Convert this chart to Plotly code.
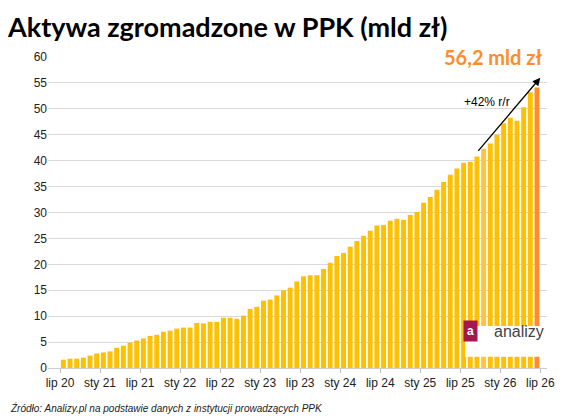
import plotly.graph_objects as go

# miesięczne aktywa PPK (mld zł), lip 2020 -> cze 2026
values = [1.6, 1.8, 1.8, 2.0, 2.4, 2.8, 3.0, 3.2, 3.9, 4.3, 4.9, 5.3,
          5.7, 6.2, 6.4, 7.0, 7.2, 7.6, 7.8, 7.8, 8.7, 8.6, 8.9, 8.9,
          9.7, 9.7, 9.5, 10.1, 11.4, 11.8, 13.0, 13.2, 14.0, 15.0, 15.5, 16.7,
          17.7, 17.9, 17.9, 19.1, 20.3, 21.6, 22.2, 23.4, 24.5, 25.5, 26.5, 27.5,
          27.6, 28.4, 28.8, 28.6, 29.5, 30.1, 31.9, 33.0, 34.4, 35.9, 37.3, 38.5,
          39.6, 39.8, 40.8, 42.3, 43.3, 45.0, 47.2, 48.3, 47.7, 50.3, 53.2, 54.1]
tick_labels = ["lip 20", "sty 21", "lip 21", "sty 22", "lip 22", "sty 23", "lip 23",
               "sty 24", "lip 24", "sty 25", "lip 25", "sty 26", "lip 26"]
last_label = "56,2 mld zł"
growth_label = "+42% r/r"

x = list(range(len(values)))
colors = ["#FFC000"] * len(values)
colors[63] = "#FDC441"
colors[-1] = "#FF8C2A"

fig = go.Figure(go.Bar(x=x, y=values, marker_color=colors, marker_line_width=0, width=0.74))

fig.add_annotation(x=71.5, y=56, ax=62, ay=41.6, xref="x", yref="y", axref="x", ayref="y",
                   showarrow=True, arrowhead=2, arrowsize=1.2, arrowwidth=1.3, arrowcolor="black", text="")
fig.add_annotation(x=63.5, y=51.3, text=growth_label, showarrow=False,
                   font=dict(size=12, color="black", family="Liberation Sans"))
fig.add_annotation(x=0.994, y=1.0, xref="paper", yref="paper", xanchor="right", yanchor="middle",
                   text="<b>" + last_label + "</b>", showarrow=False,
                   font=dict(size=20, color="#FF8C2A", family="Lato"))

# logo
fig.add_shape(type="rect", xref="paper", yref="paper", x0=0.836, x1=1.0, y0=0.036, y1=0.135,
              fillcolor="white", line_width=0, layer="above")
fig.add_annotation(x=0.862, y=0.082, xref="paper", yref="paper", text="<b>a</b>", showarrow=False,
                   bgcolor="#A5174F", font=dict(color="white", size=12, family="Liberation Sans"),
                   borderpad=3)
fig.add_annotation(x=0.89, y=0.082, xref="paper", yref="paper", xanchor="left", text="analizy",
                   showarrow=False, font=dict(color="#444", size=16, family="Liberation Sans"))

fig.update_layout(
    width=563, height=416,
    margin=dict(l=40, r=24, t=49, b=56, autoexpand=False),
    paper_bgcolor="white", plot_bgcolor="white",
    showlegend=False,
    title=dict(text="<b>Aktywa zgromadzone w PPK (mld zł)</b>", x=0.0, y=0.952, xanchor="left",
               yanchor="middle", font=dict(size=27, color="black", family="Lato")),
    font=dict(family="Liberation Sans", size=12, color="#222"),
)
fig.add_annotation(x=-0.08, y=-0.129, xref="paper", yref="paper", xanchor="left", yanchor="middle",
                   text="<i>Źródło: Analizy.pl na podstawie danych z instytucji prowadzących PPK</i>",
                   showarrow=False, font=dict(size=10, color="#222"))
fig.update_xaxes(range=[-2.3, 72.5], tickvals=[-0.5 + 6 * k for k in range(len(tick_labels))],
                 ticktext=tick_labels, ticks="outside", ticklen=4, tickcolor="#bbb",
                 showline=True, linecolor="#ccc", showgrid=False, zeroline=False, automargin=False)
fig.update_yaxes(range=[0, 60], dtick=5, gridcolor="#d9d9d9", zeroline=False, ticks="",
                 tickfont=dict(size=12), automargin=False)

fig.write_html("out.html")
